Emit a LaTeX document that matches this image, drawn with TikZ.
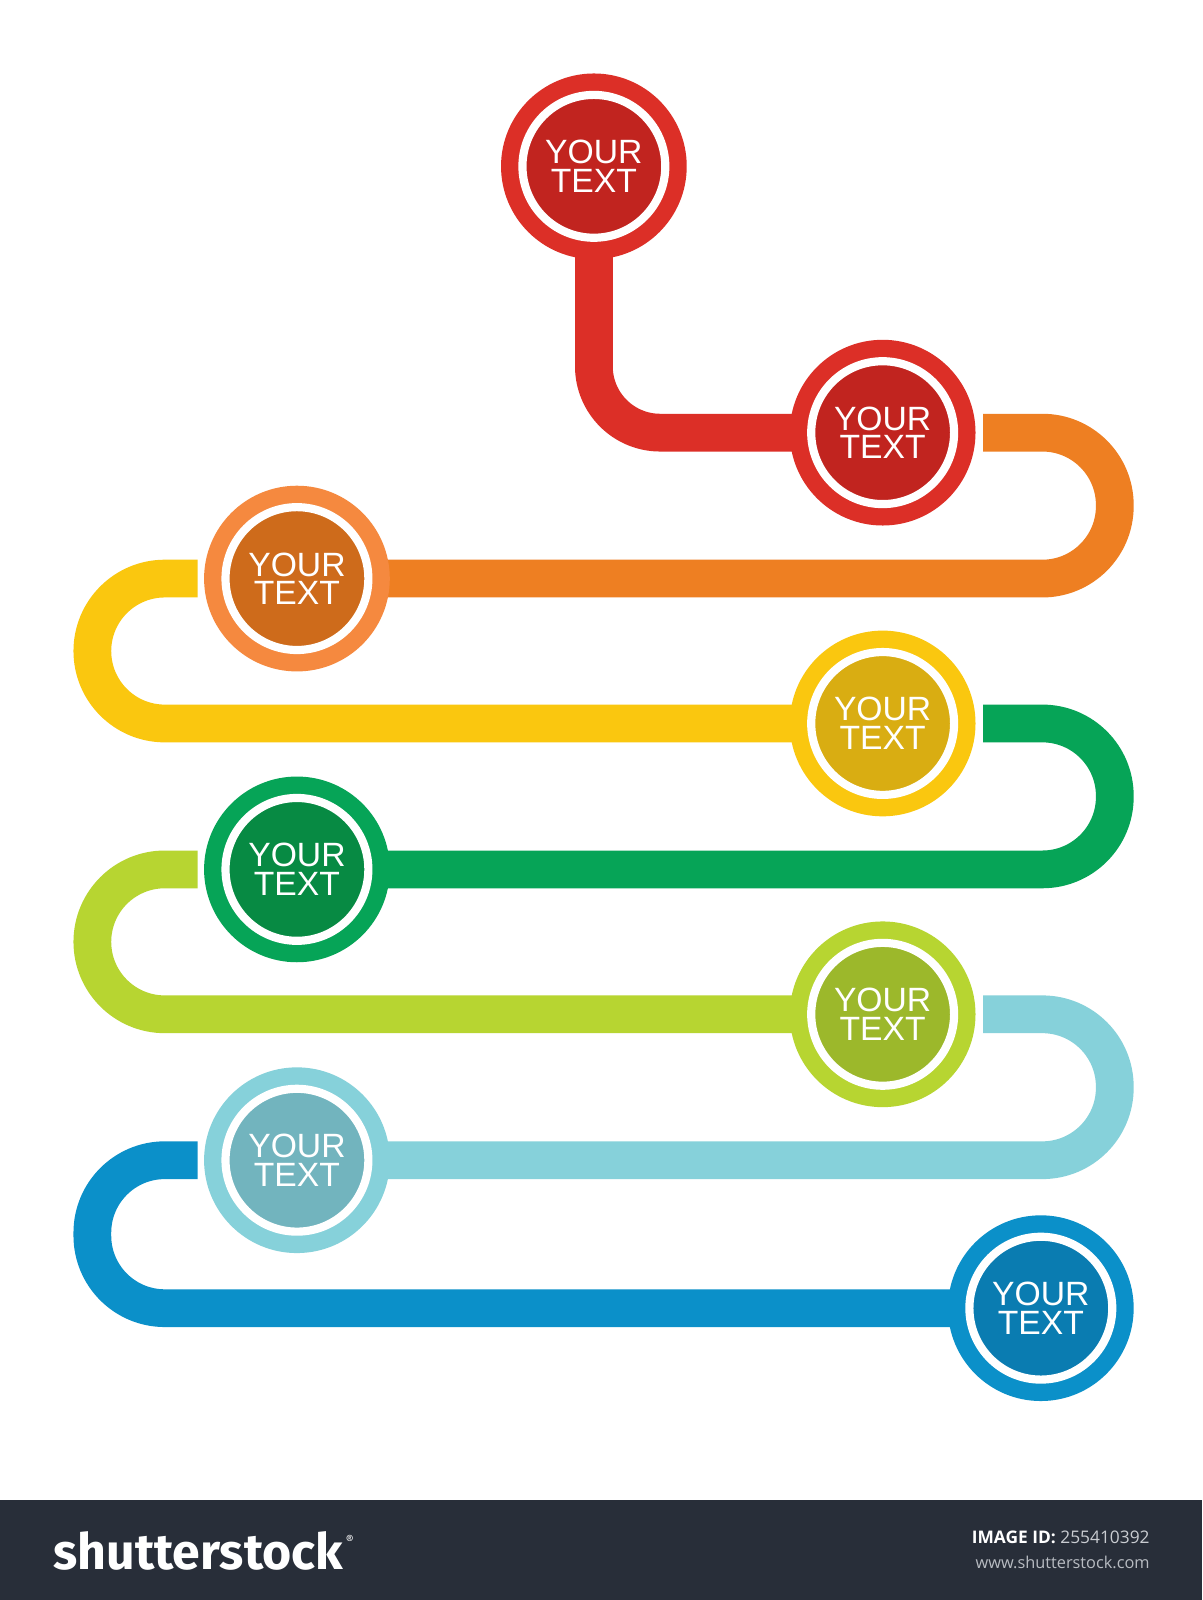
\documentclass[tikz,border=0pt]{standalone}
\usepackage{fontspec}
\setmainfont{Liberation Sans}
\newfontfamily\footfont{Open Sans}
\newfontfamily\logofont{Fira Sans}
\usetikzlibrary{backgrounds}
\definecolor{redring}{HTML}{DC2F27}
\definecolor{redin}{HTML}{C1241F}
\definecolor{orangeline}{HTML}{EE7F22}
\definecolor{orangering}{HTML}{F5893F}
\definecolor{orangein}{HTML}{CE6B1B}
\definecolor{yellowline}{HTML}{FAC70F}
\definecolor{yellowin}{HTML}{D9AD12}
\definecolor{greenline}{HTML}{06A457}
\definecolor{greenin}{HTML}{078A43}
\definecolor{limeline}{HTML}{B7D531}
\definecolor{limein}{HTML}{9CB82B}
\definecolor{lbline}{HTML}{86D1DA}
\definecolor{lbin}{HTML}{72B4BE}
\definecolor{blueline}{HTML}{0B90C9}
\definecolor{bluein}{HTML}{0A7CB1}
\definecolor{barcol}{HTML}{282E39}
\definecolor{idgrey}{HTML}{C9CCD1}
\definecolor{urlgrey}{HTML}{B8BCC2}
\tikzset{
  pipe/.style={line width=18.5pt},
  ringnode/.style={circle, minimum size=91pt, inner sep=0pt, fill=#1},
  corenode/.style={circle, minimum size=70pt, inner sep=0pt, fill=#1, draw=white, line width=4pt,
    text=white, align=center, font=\fontsize{16.5}{14}\selectfont},
}
\begin{document}
\begin{tikzpicture}[x=0.5pt,y=-0.5pt]
\useasboundingbox (0,0) rectangle (1178,1568);
\coordinate (R) at (1092.5,0);
\coordinate (L) at (90.5,0);
% circles
\node[ringnode=redring] (c1) at (582,163) {};
\node[corenode=redin] (t1) at (c1) {YOUR\\TEXT};
\node[ringnode=redring] (c2) at (865,424) {};
\node[corenode=redin] (t2) at (c2) {YOUR\\TEXT};
\node[ringnode=orangering] (c3) at (291,567) {};
\node[corenode=orangein] (t3) at (c3) {YOUR\\TEXT};
\node[ringnode=yellowline] (c4) at (865,709) {};
\node[corenode=yellowin] (t4) at (c4) {YOUR\\TEXT};
\node[ringnode=greenline] (c5) at (291,852) {};
\node[corenode=greenin] (t5) at (c5) {YOUR\\TEXT};
\node[ringnode=limeline] (c6) at (865,994) {};
\node[corenode=limein] (t6) at (c6) {YOUR\\TEXT};
\node[ringnode=lbline] (c7) at (291,1137) {};
\node[corenode=lbin] (t7) at (c7) {YOUR\\TEXT};
\node[ringnode=blueline] (c8) at (1020,1282) {};
\node[corenode=bluein] (t8) at (c8) {YOUR\\TEXT};
% pipes
\begin{scope}[on background layer]
\fill[white] (0,0) rectangle (1178,1568);
\draw[pipe, redring, rounded corners=32.5pt] (c1.center) |- (c2.center);
\draw[pipe, orangeline, rounded corners=35.5pt] ([xshift=3.5pt]c2.east) -- (c2 -| R) -- (c3 -| R) -- (c3.center);
\draw[pipe, yellowline, rounded corners=35.5pt] ([xshift=-3pt]c3.west) -- (c3 -| L) -- (c4 -| L) -- (c4.center);
\draw[pipe, greenline, rounded corners=35.5pt] ([xshift=3.5pt]c4.east) -- (c4 -| R) -- (c5 -| R) -- (c5.center);
\draw[pipe, limeline, rounded corners=35.5pt] ([xshift=-3pt]c5.west) -- (c5 -| L) -- (c6 -| L) -- (c6.center);
\draw[pipe, lbline, rounded corners=35.5pt] ([xshift=3.5pt]c6.east) -- (c6 -| R) -- (c7 -| R) -- (c7.center);
\draw[pipe, blueline, rounded corners=35.5pt] ([xshift=-3pt]c7.west) -- (c7 -| L) -- (c8 -| L) -- (c8.center);
\end{scope}
% footer
\fill[barcol] (0,1470) rectangle (1178,1568);
\node[anchor=base west, inner sep=0pt, text=white, font=\logofont\bfseries\fontsize{24.5}{24.5}\selectfont] (logo) at (52,1538) {shutterstock};
\node[anchor=north west, inner sep=0pt, text=white, font=\logofont\fontsize{6}{6}\selectfont] (reg) at ([xshift=1pt,yshift=-2pt]logo.north east) {®};
\node[anchor=base east, inner sep=0pt, font=\footfont\fontsize{8.5}{8.5}\selectfont, text=white] (imgid) at (1127,1513) {{\bfseries IMAGE ID:} \textcolor{idgrey}{255410392}};
\node[anchor=base east, inner sep=0pt, font=\footfont\fontsize{8}{8}\selectfont, text=urlgrey] (url) at (1127,1537) {www.shutterstock.com};
\end{tikzpicture}
\end{document}
